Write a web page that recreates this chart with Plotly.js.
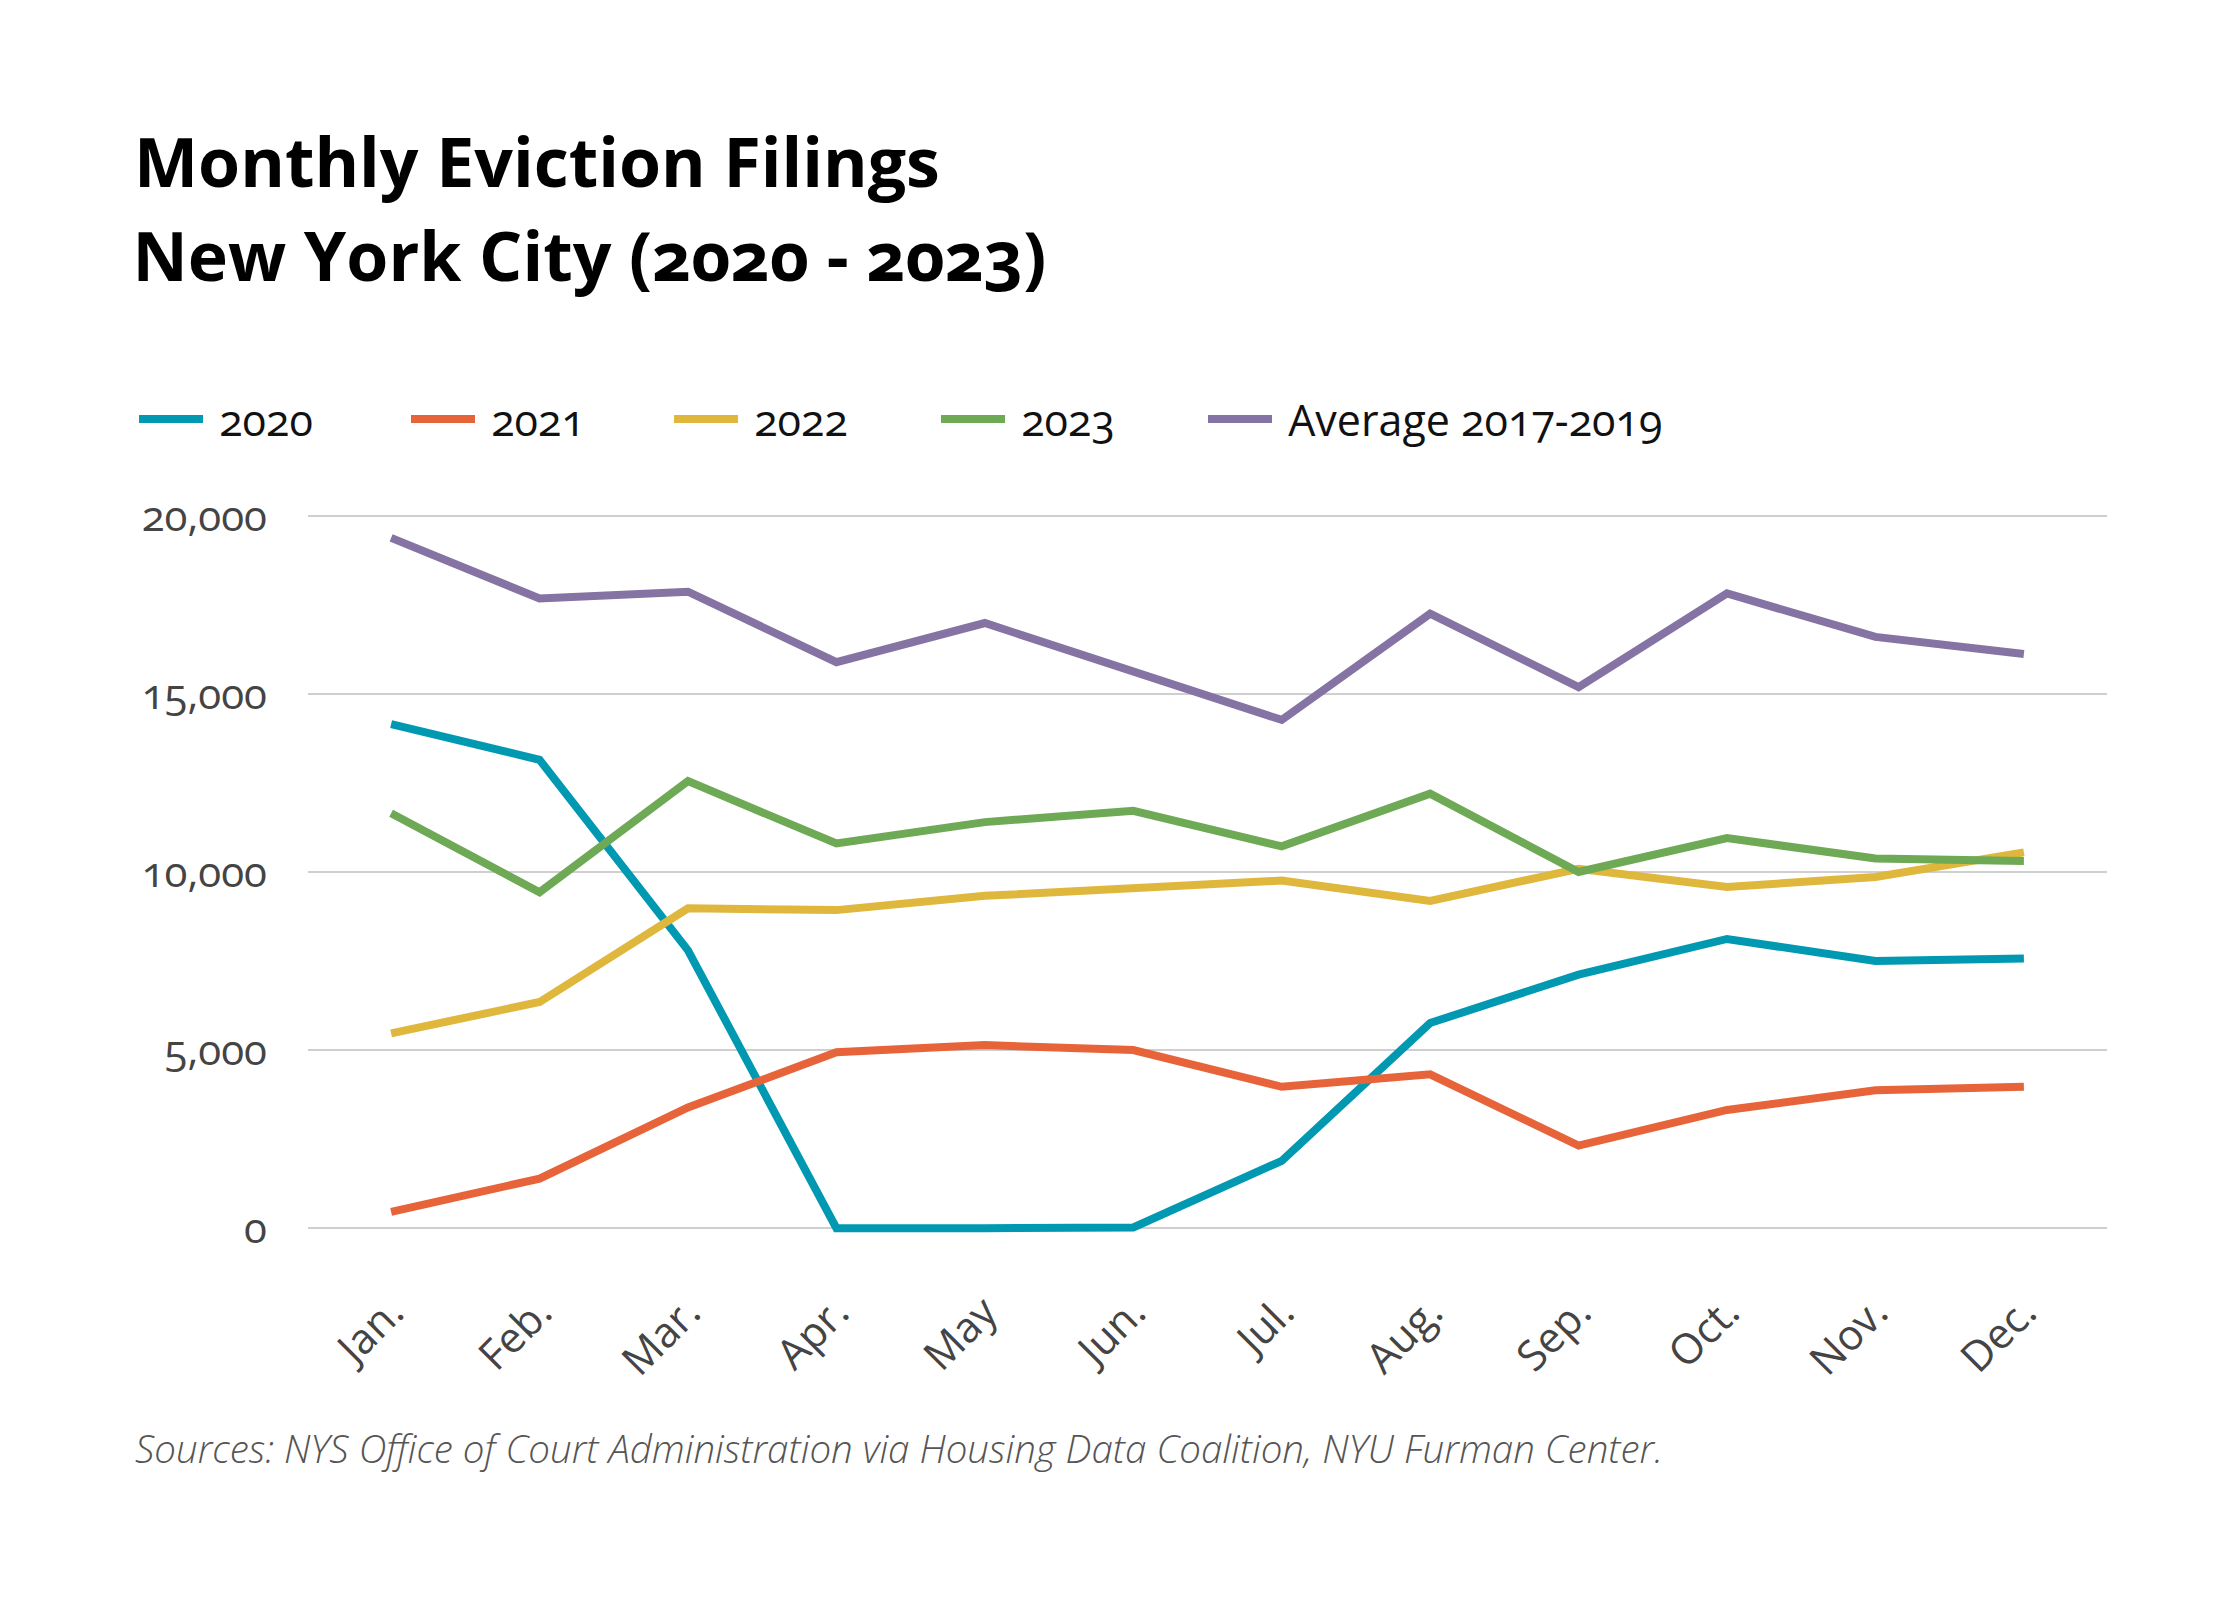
<!DOCTYPE html>
<html>
<head>
<meta charset="utf-8">
<script src="https://cdn.plot.ly/plotly-3.0.1.min.js"></script>
<style>
  html, body { margin: 0; padding: 0; background: #fff; }
  #plot { width: 2240px; height: 1600px; }
  /* old-style figures, like the original typeface */
  #plot text { font-feature-settings: "onum" 1; }
</style>
</head>
<body>
<div id="plot"></div>
<script>
const months = ['Jan.', 'Feb.', 'Mar.', 'Apr.', 'May', 'Jun.', 'Jul.', 'Aug.', 'Sep.', 'Oct.', 'Nov.', 'Dec.'];

const filings2020 = [14150, 13150, 7800, 0, 0, 20, 1890, 5760, 7120, 8120, 7500, 7570];
const filings2021 = [460, 1390, 3390, 4940, 5140, 5000, 3970, 4320, 2320, 3320, 3870, 3970];
const filings2022 = [5470, 6350, 8980, 8930, 9330, 9550, 9760, 9190, 10090, 9580, 9860, 10550];
const filings2023 = [11650, 9430, 12550, 10800, 11400, 11720, 10720, 12200, 10000, 10950, 10380, 10310];
const avg2017to2019 = [19380, 17680, 17870, 15890, 16990, 15650, 14270, 17250, 15190, 17820, 16600, 16120];

const yTicks = [0, 5000, 10000, 15000, 20000];

const series = [
    { name: '2020', y: filings2020, color: '#0099b1' },
    { name: '2021', y: filings2021, color: '#e7643a' },
    { name: '2022', y: filings2022, color: '#dfb73d' },
    { name: '2023', y: filings2023, color: '#6ea955' },
    { name: 'Average 2017-2019', y: avg2017to2019, color: '#8573a3' },
];

// one legend per series so each entry sits where the original puts it
const legendIds = ['legend', 'legend2', 'legend3', 'legend4', 'legend5'];
const legendLeft = [134, 406, 669, 936, 1203];

const traces = series.map((s, i) => ({
    x: months,
    y: s.y,
    name: '\u00a0' + s.name,
    legend: legendIds[i],
    type: 'scatter',
    mode: 'lines',
    line: { color: s.color, width: 8 },
    hoverinfo: 'skip',
}));

const layout = {
    width: 2240,
    height: 1600,
    paper_bgcolor: '#ffffff',
    plot_bgcolor: '#ffffff',
    font: { family: 'Open Sans, sans-serif', color: '#444444' },
    margin: { l: 308, r: 133, t: 498, b: 354, pad: 0 },
    showlegend: true,
    xaxis: {
        type: 'category',
        range: [-0.56, 11.56],
        showgrid: false,
        zeroline: false,
        showline: false,
        ticks: '',
        tickangle: -45,
        tickfont: { size: 42, color: '#444444' },
        ticklabelstandoff: 32,
        fixedrange: true,
    },
    yaxis: {
        range: [-500, 20500],
        tickvals: yTicks,
        tickformat: ',',
        showgrid: true,
        gridcolor: '#cfcfcf',
        gridwidth: 2,
        zeroline: false,
        showline: false,
        ticks: '',
        tickfont: { size: 42, color: '#444444' },
        ticklabelstandoff: 40,
        fixedrange: true,
    },
    annotations: [
        {
            text: 'Monthly Eviction Filings',
            xref: 'paper', yref: 'paper',
            x: -0.098, y: 1.451,
            xanchor: 'left', yanchor: 'middle',
            showarrow: false,
            font: { size: 68, color: '#000000', weight: 700 },
        },
        {
            text: 'New York City (2020 - 2023)',
            xref: 'paper', yref: 'paper',
            x: -0.098, y: 1.325,
            xanchor: 'left', yanchor: 'middle',
            showarrow: false,
            font: { size: 68, color: '#000000', weight: 700 },
        },
        {
            text: 'Sources: NYS Office of Court Administration via Housing Data Coalition, NYU Furman Center.',
            xref: 'paper', yref: 'paper',
            x: -0.0975, y: -0.307,
            xanchor: 'left', yanchor: 'bottom',
            showarrow: false,
            font: { size: 38.5, color: '#555555', style: 'italic', weight: 300 },
        },
    ],
};

legendIds.forEach((id, i) => {
    layout[id] = {
        orientation: 'h',
        xref: 'container',
        yref: 'container',
        x: legendLeft[i] / 2240,
        xanchor: 'left',
        y: 1 - 419 / 1600,
        yanchor: 'middle',
        font: { size: 43, color: '#111111' },
        itemwidth: 64,
        bgcolor: 'rgba(0,0,0,0)',
    };
});

const config = {
    displayModeBar: false,
    staticPlot: true,
};

Plotly.newPlot('plot', traces, layout, config);
</script>
</body>
</html>
